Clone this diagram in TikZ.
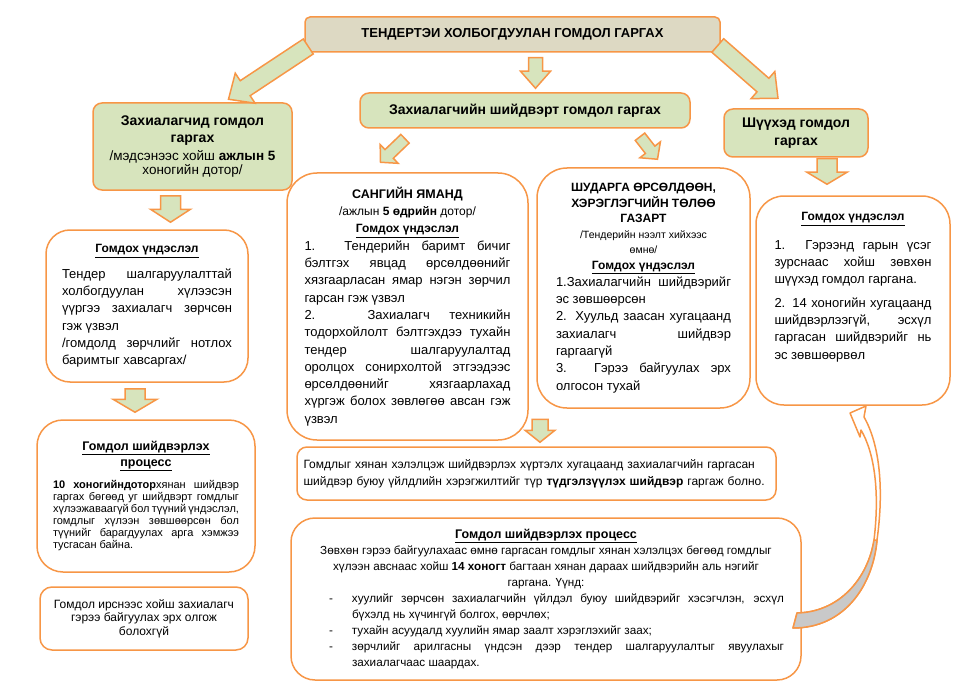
\documentclass[tikz,border=0pt]{standalone}
\usepackage{fontspec}
\setmainfont{Liberation Sans}
\usepackage{tikz}
\usetikzlibrary{positioning,calc}
\usepackage{xcolor}
\definecolor{boxline}{HTML}{F79646}
\definecolor{boxgreen}{HTML}{D7E4BD}
\definecolor{titlefill}{HTML}{DDD9C3}
\definecolor{twistgray}{HTML}{C9C9C9}
\hyphenpenalty=10000
\tolerance=10000
% fat arrow: half shaft, half head, head length, from, to
\newcommand{\blockarrow}[5]{%
  \coordinate (ba-neck) at ($(#5)!#3!(#4)$);
  \filldraw[blockarr] ($(#4)!#1!90:(#5)$) -- ($(ba-neck)!#1!90:(#5)$) -- ($(ba-neck)!#2!90:(#5)$) -- (#5)
    -- ($(ba-neck)!#2!-90:(#5)$) -- ($(ba-neck)!#1!-90:(#5)$) -- ($(#4)!#1!-90:(#5)$) -- cycle;}
\newcommand{\boxhead}[1]{\textbf{\fontsize{12}{17}\selectfont\underline{#1}}}

\begin{document}
\begin{tikzpicture}[x=1pt, y=-1pt,
        titlebox/.style={draw=boxline, fill=titlefill, line width=1.5pt, rounded corners=5pt, minimum width=415pt, minimum height=35pt, font=\fontsize{13}{15}\selectfont\bfseries},
        greenbox/.style={draw=boxline, fill=boxgreen, line width=1.5pt, rounded corners=9pt, align=center, font=\fontsize{14}{17.5}\selectfont\bfseries},
        whitebox/.style={draw=boxline, fill=white, line width=1.5pt, align=justify, font=\fontsize{13}{17.3}\selectfont},
        blockarr/.style={draw=boxline, fill=boxgreen, line width=1.5pt, line join=miter},
        curvearr/.style={draw=boxline, fill=white, line width=1.5pt, line join=round}
    ]
    \useasboundingbox (0,0) rectangle (964,690);
    % Top
    \node[titlebox] (title) at (512.5,34.5) {ТЕНДЕРТЭИ ХОЛБОГДУУЛАН ГОМДОЛ ГАРГАХ};
    \node[greenbox, minimum width=199pt, minimum height=87pt] (cust) at (192.5,146.5) {Захиалагчид гомдол\\ гаргах\\ {\mdseries\fontsize{13.5}{15}\selectfont /мэдсэнээс хойш \textbf{ажлын 5}}\\[-3pt] {\mdseries\fontsize{13.5}{15}\selectfont хоногийн дотор/}};
    \node[greenbox, minimum width=330pt, minimum height=35pt] (decision) at (525,110.5) {Захиалагчийн шийдвэрт гомдол гаргах};
    \node[greenbox, minimum width=144pt, minimum height=48pt] (court) at (796,133) {Шүүхэд гомдол\\ гаргах};
    % Middle column
    \node[whitebox, rounded corners=30pt, text width=206pt, minimum width=241pt, minimum height=267pt] (ministry) at (407.5,306.5) {%
        {\centering{\fontsize{12.5}{17}\selectfont\textbf{САНГИЙН ЯМАНД}}\\ {\fontsize{12}{17}\selectfont /ажлын \textbf{5 өдрийн} дотор/}\\ \boxhead{Гомдох үндэслэл}\par}
        1. Тендерийн баримт бичиг\linebreak бэлтгэх явцад өрсөлдөөнийг\linebreak хязгаарласан ямар нэгэн зөрчил\linebreak гарсан гэж үзвэл\par
        2. Захиалагч техникийн\linebreak тодорхойлолт бэлтгэхдээ тухайн\linebreak тендер шалгаруулалтад\linebreak оролцох сонирхолтой этгээдээс\linebreak өрсөлдөөнийг хязгаарлахад\linebreak хүргэж болох зөвлөгөө авсан гэж\linebreak үзвэл\par};
    \node[whitebox, rounded corners=30pt, text width=175pt, minimum width=213pt, minimum height=240pt] (fair) at (643.5,288) {%
        {\centering\fontsize{12}{15.5}\selectfont\textbf{ШУДАРГА ӨРСӨЛДӨӨН,\\ ХЭРЭГЛЭГЧИЙН ТӨЛӨӨ\\ ГАЗАРТ}\\ {\fontsize{10.5}{15.5}\selectfont /Тендерийн нээлт хийхээс\\ өмнө/}\\ \boxhead{Гомдох үндэслэл}\par}
        1.Захиалагчийн шийдвэрийг\linebreak эс зөвшөөрсөн\par
        2. Хуульд заасан хугацаанд\linebreak захиалагч шийдвэр\linebreak гаргаагүй\par
        3. Гэрээ байгуулах эрх\linebreak олгосон тухай\par};
    % Right column
    \node[whitebox, rounded corners=28pt, text width=157pt, minimum width=194pt, minimum height=209pt] (grounds3) at (853,300.5) {%
        {\centering\boxhead{Гомдох үндэслэл}\par}\vspace{11pt}
        1. Гэрээнд гарын үсэг\linebreak зурснаас хойш зөвхөн\linebreak шүүхэд гомдол гаргана.\par\vspace{6pt}
        2. 14 хоногийн хугацаанд\linebreak шийдвэрлээгүй, эсхүл\linebreak гаргасан шийдвэрийг нь\linebreak эс зөвшөөрвөл\par\vspace{12pt}\hbox{}};
    % Left column
    \node[whitebox, rounded corners=24pt, text width=170pt, minimum width=202pt, minimum height=152pt] (grounds1) at (147,306) {%
        {\centering\boxhead{Гомдох үндэслэл}\par}\vspace{8pt}
        Тендер шалгаруулалттай\linebreak холбогдуулан хүлээсэн\linebreak үүргээ захиалагч зөрчсөн\linebreak гэж үзвэл\\ /гомдолд зөрчлийг нотлох\linebreak баримтыг хавсаргах/\par};
    \node[whitebox, rounded corners=26pt, text width=186pt, minimum width=218pt, minimum height=152pt, font=\fontsize{11}{12}\selectfont] (process1) at (146,496) {%
        {\centering\fontsize{12.5}{16}\selectfont\bfseries\underline{Гомдол шийдвэрлэх}\\ \underline{процесс}\par}\vspace{9pt}
        \textbf{10 хоногийндотор}хянан шийдвэр\linebreak гаргах бөгөөд уг шийдвэрт гомдлыг\linebreak хүлээжаваагүй бол түүний үндэслэл,\linebreak гомдлыг хүлээн зөвшөөрсөн бол\linebreak түүнийг барагдуулах арга хэмжээ\linebreak тусгасан байна.\par};
    \node[whitebox, rounded corners=12pt, align=center, minimum width=208pt, minimum height=63pt, font=\fontsize{12}{13.4}\selectfont] (nocontract) at (144,618.5) {Гомдол ирснээс хойш захиалагч\\ гэрээ байгуулах эрх олгож\\ болохгүй};
    % Bottom
    \node[whitebox, rounded corners=10pt, align=left, text width=466pt, minimum width=479pt, minimum height=53pt, font=\fontsize{12}{17}\selectfont] (suspend) at (536.5,473.5) {Гомдлыг хянан хэлэлцэж шийдвэрлэх хүртэлх хугацаанд захиалагчийн гаргасан\\ шийдвэр буюу үйлдлийн хэрэгжилтийг түр \textbf{түдгэлзүүлэх шийдвэр} гаргаж болно.};
    \node[whitebox, rounded corners=24pt, text width=476pt, minimum width=510pt, minimum height=162pt, font=\fontsize{11.7}{16}\selectfont] (process2) at (546,599) {%
        {\centering{\fontsize{12.5}{16}\selectfont\textbf{\underline{Гомдол шийдвэрлэх процесс}}}\\ Зөвхөн гэрээ байгуулахаас өмнө гаргасан гомдлыг хянан хэлэлцэх бөгөөд гомдлыг\\ хүлээн авснаас хойш \textbf{14 хоногт} багтаан хянан дараах шийдвэрийн аль нэгийг\\ гаргана. Үүнд:\par}
        \leftskip=44pt
        \noindent\llap{-\hspace{19pt}}хуулийг зөрчсөн захиалагчийн үйлдэл буюу шийдвэрийг хэсэгчлэн, эсхүл\linebreak бүхэлд нь хүчингүй болгох, өөрчлөх;\par
        \noindent\llap{-\hspace{19pt}}тухайн асуудалд хуулийн ямар заалт хэрэглэхийг заах;\par
        \noindent\llap{-\hspace{19pt}}зөрчлийг арилгасны үндсэн дээр тендер шалгаруулалтыг явуулахыг\linebreak захиалагчаас шаардах.\par};
    % Arrows
    \coordinate (a1s) at ($(title.west)+(4,12)$);
    \coordinate (a1e) at ($(cust.north)+(36,-3)$);
    \coordinate (a2s) at ($(title.south)+(23,5)$);
    \coordinate (a2e) at ($(decision.north)+(10.5,-4)$);
    \coordinate (a3s) at ($(title.east)+(-3,11)$);
    \coordinate (a3e) at ($(court.north)+(-18,-10)$);
    \coordinate (a4s) at ($(decision.south)+(-120,10)$);
    \coordinate (a4e) at ($(ministry.north)+(-27,-10)$);
    \coordinate (a5s) at ($(decision.south)+(115,8)$);
    \coordinate (a5e) at ($(fair.north)+(14,-8)$);
    \coordinate (a6s) at ($(cust.south)+(-22,5)$);
    \coordinate (a6e) at ($(grounds1.north)+(23.5,-7)$);
    \coordinate (a7s) at ($(court.south)+(31,1)$);
    \coordinate (a7e) at ($(grounds3.north)+(-26,-11)$);
    \coordinate (a8s) at ($(grounds1.south)+(-12,6)$);
    \coordinate (a8e) at ($(process1.north)+(-11,-7)$);
    \coordinate (a9s) at ($(suspend.north)+(3.5,-27)$);
    \coordinate (a9e) at ($(suspend.north)+(3.5,-4)$);
    \blockarrow{9pt}{18pt}{20pt}{a1s}{a1e}
    \blockarrow{7pt}{15pt}{17pt}{a2s}{a2e}
    \blockarrow{9pt}{18pt}{20pt}{a3s}{a3e}
    \blockarrow{6pt}{13pt}{12pt}{a4s}{a4e}
    \blockarrow{6pt}{13pt}{12pt}{a5s}{a5e}
    \blockarrow{10pt}{20pt}{13pt}{a6s}{a6e}
    \blockarrow{10pt}{20pt}{12pt}{a7s}{a7e}
    \blockarrow{10pt}{22pt}{13pt}{a8s}{a8e}
    \blockarrow{8pt}{15pt}{12pt}{a9s}{a9e}
    % Curved arrow back to the court
    \filldraw[curvearr] (793,628) .. controls (845,628) and (873,585) .. (877,540) .. controls (884,490) and (880,445) .. (864,417) -- (866,406) -- (850,413) -- (860,437) -- (861,430) .. controls (874,452) and (880,490) .. (874,540) .. controls (868,578) and (840,612) .. (797,613) -- cycle;
    \filldraw[curvearr, fill=twistgray] (793,628) .. controls (845,628) and (873,585) .. (877,540) -- (874,540) .. controls (868,578) and (840,612) .. (797,613) -- cycle;
\end{tikzpicture}
\end{document}
